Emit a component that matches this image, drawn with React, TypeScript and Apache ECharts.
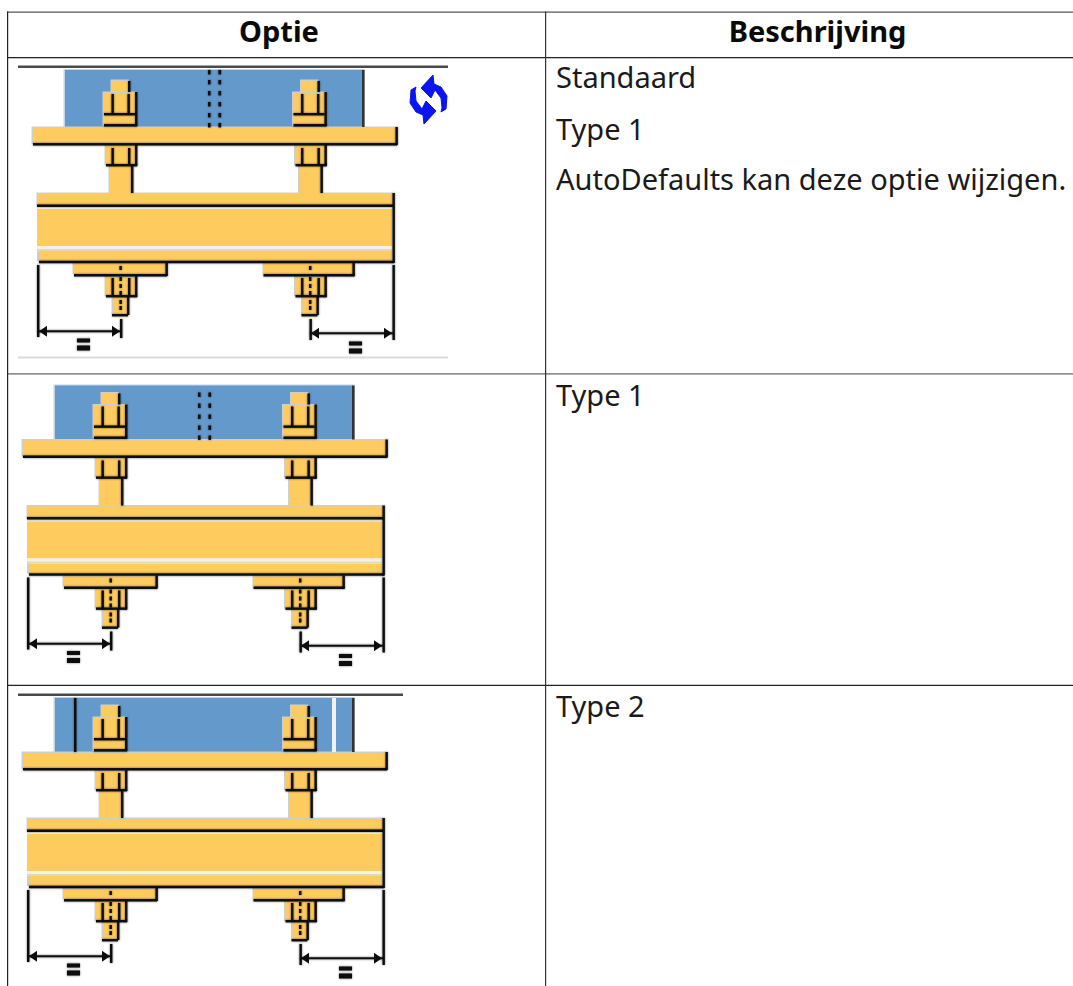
import React, { useEffect, useRef } from "react";
import * as echarts from "echarts";

const WIDTH = 1073;
const HEIGHT = 986;
const FONT = '"Noto Sans", sans-serif';

const headers = ["Optie", "Beschrijving"];
const rowOneTexts = ["Standaard", "Type 1", "AutoDefaults kan deze optie wijzigen."];
const rowTwoTexts = ["Type 1"];
const rowThreeTexts = ["Type 2"];

const YELLOW = "#FECB5F";
const BLUE = "#6499CC";
const BLACK = "#0c0c0c";
const EDGE = "#cfcfca";
const T = 2.4;

const rect = (x: number, y: number, w: number, h: number, fill: string, z = 1) => ({
  type: "rect", z, silent: true, shape: { x, y, width: w, height: h },
  style: fill === BLACK ? { fill, shadowColor: "rgba(0,0,0,0.55)", shadowBlur: 1.6 } : { fill },
});

const part = (x: number, y: number, w: number, h: number) => [
  rect(x - 1.5, y - 1.5, w + 1.5, h + 1.5, EDGE),
  rect(x, y, w, h, YELLOW),
];

const arrowHead = (tipX: number, y: number, dir: number) => ({
  type: "polygon", z: 3, silent: true,
  shape: { points: [[tipX, y], [tipX + dir * 8, y - 5.5], [tipX + dir * 8, y + 5.5]] },
  style: { fill: BLACK },
});

function bolt(dx: number) {
  const x = (v: number) => v + dx;
  const out: any[] = [];
  out.push(...part(x(112), 81, 17, 11));
  out.push(rect(x(128), 81, T, 11, BLACK, 3));
  out.push(...part(x(104), 93, 33, 33));
  out.push(rect(x(111.5), 94, T, 20, BLACK, 3));
  out.push(rect(x(127.5), 94, T, 20, BLACK, 3));
  out.push(rect(x(135), 92, T, 34, BLACK, 3));
  out.push(rect(x(104), 113, 31, T, BLACK, 3));
  out.push(rect(x(104), 124, 33, T, BLACK, 3));
  out.push(...part(x(106), 146, 31, 19));
  out.push(rect(x(111.5), 148, T, 17, BLACK, 3));
  out.push(rect(x(128), 148, T, 17, BLACK, 3));
  out.push(rect(x(135), 145, T, 21, BLACK, 3));
  out.push(rect(x(106), 164, 31, T, BLACK, 3));
  out.push(...part(x(110), 166, 21, 27));
  out.push(rect(x(131), 166, T, 27, BLACK, 3));
  out.push(...part(x(106), 277, 31, 19));
  out.push(rect(x(111.5), 278, T, 18, BLACK, 3));
  out.push(rect(x(128), 278, T, 18, BLACK, 3));
  out.push(rect(x(135), 276, T, 21, BLACK, 3));
  out.push(rect(x(106), 295, 31, T, BLACK, 3));
  out.push(...part(x(113), 297, 15, 17));
  out.push(rect(x(127), 297, T, 18, BLACK, 3));
  out.push(rect(x(112), 314, 16, T, BLACK, 3));
  for (const y of [266, 277, 284, 291, 300, 306]) {
    out.push(rect(x(119.5), y, 2.4, 4, BLACK, 4));
  }
  return out;
}

function diagram(ox: number, oy: number, variant: 1 | 2 | 3) {
  const c: any[] = [];
  const blueTop = variant === 1 ? 70 : 73;
  c.push(rect(63.5, blueTop - 1, 301, 128 - blueTop + 1, "#c4d4e4"));
  c.push(rect(65, blueTop, 298, 127 - blueTop, BLUE));
  c.push(rect(362, blueTop, 2.6, 127 - blueTop, "#333333", 2));
  if (variant === 3) {
    c.push(rect(84, blueTop, T, 54, BLACK, 2));
    c.push(rect(342, blueTop, 4, 54, "#f1f1f1", 2));
  } else {
    for (const px of [208, 218.5]) {
      for (const y of [70, 80, 91, 102, 113, 123]) {
        if (y >= blueTop) c.push(rect(px, y, 2.6, 4.4, BLACK, 2));
      }
    }
  }
  c.push(...part(33, 128, 363, 16));
  c.push(rect(33, 143, 364, T, BLACK, 3));
  c.push(rect(395.5, 127, T, 18, BLACK, 3));
  c.push(...part(38, 194, 355, 11));
  c.push(rect(37, 204.5, 356, T, BLACK, 3));
  c.push(rect(37, 207, 355, 2, "#f6f3e8", 2));
  c.push(rect(37, 209, 355, 37, YELLOW, 2));
  c.push(rect(37, 246, 355, 3, "#f3f1e8", 2));
  c.push(rect(37, 249, 2, 12, EDGE, 2));
  c.push(rect(39, 251, 353, 10, YELLOW, 2));
  c.push(rect(37, 249, 355, 2, "#e2d9bd", 2));
  c.push(rect(39, 260.8, 355, T, BLACK, 3));
  c.push(rect(392.5, 193, T, 70, BLACK, 3));
  c.push(...part(74, 264, 92, 10));
  c.push(rect(74, 274, 93, T, BLACK, 3));
  c.push(rect(165.5, 263, T, 13, BLACK, 3));
  c.push(...part(264, 264, 89, 10));
  c.push(rect(263.5, 274, 91, T, BLACK, 3));
  c.push(rect(352.5, 263, T, 13, BLACK, 3));
  c.push(...bolt(0), ...bolt(189.5));
  c.push(rect(37, 265, T, 72, BLACK, 3));
  c.push(rect(120, 319, T, 19, BLACK, 3));
  c.push(rect(38, 330.3, 82, 2, BLACK, 3));
  c.push(arrowHead(39, 331.3, 1), arrowHead(120, 331.3, -1));
  c.push(rect(77, 338.5, 13, 4, BLACK, 3), rect(77, 345.5, 13, 5, BLACK, 3));
  c.push(rect(309.5, 319, T, 21, BLACK, 3));
  c.push(rect(392.5, 265, T, 75, BLACK, 3));
  c.push(rect(310, 332.3, 83, 2, BLACK, 3));
  c.push(arrowHead(311, 333.3, 1), arrowHead(392, 333.3, -1));
  c.push(rect(349, 341.5, 13, 4, BLACK, 3), rect(349, 348.5, 13, 5, BLACK, 3));
  return { type: "group", x: ox, y: oy, children: c };
}

const upperArrow = [
  [433, 75], [421, 88], [431, 98], [435, 90], [441, 98], [442, 108], [441, 112],
  [446, 109], [447, 96], [441, 87], [434, 84],
];
const lowerArrow = upperArrow.map(([x, y]) => [857 - x, 199 - y]);

const text = (s: string, x: number, y: number, bold: boolean, align: string) => ({
  type: "text", z: 5, silent: true, x, y,
  style: {
    text: s, fill: bold ? "#0a0a0a" : "#1a1a1a", align, verticalAlign: "middle",
    font: `${bold ? "700 " : ""}29px ${FONT}`,
  },
});

function buildGraphic() {
  const els: any[] = [];
  els.push(rect(0, 0, WIDTH, HEIGHT, "#ffffff", 0));
  els.push(diagram(0, 0, 1), diagram(-10, 312.5, 2), diagram(-10, 625, 3));
  els.push(rect(18, 65.5, 430, 2.5, "#4a4a4a", 2), rect(18, 356.5, 430, 2, "#dcdcd2", 2));
  els.push(rect(18, 693.5, 385, 2.5, "#4a4a4a", 2));
  els.push(
    { type: "polygon", z: 2, silent: true, shape: { points: upperArrow }, style: { fill: "#0a14f0", lineJoin: "round", stroke: "#0a14f0", lineWidth: 1 } },
    { type: "polygon", z: 2, silent: true, shape: { points: lowerArrow }, style: { fill: "#0a14f0", lineJoin: "round", stroke: "#0a14f0", lineWidth: 1 } },
  );
  els.push(rect(7, 11.5, WIDTH - 7, 1.3, "#555555", 6));
  els.push(rect(7, 57, WIDTH - 7, 1.2, "#222222", 6));
  els.push(rect(7, 373.3, WIDTH - 7, 1.3, "#666666", 6));
  els.push(rect(7, 684.8, WIDTH - 7, 1.2, "#222222", 6));
  els.push(rect(7, 11.5, 1.2, HEIGHT, "#222222", 6));
  els.push(rect(545, 11.5, 1.2, HEIGHT, "#333333", 6));
  els.push(text(headers[0], 279, 30.5, true, "center"), text(headers[1], 817.5, 30.5, true, "center"));
  rowOneTexts.forEach((s, i) => els.push(text(s, 556, [76.5, 128, 178][i], false, "left")));
  rowTwoTexts.forEach((s) => els.push(text(s, 556, 394, false, "left")));
  rowThreeTexts.forEach((s) => els.push(text(s, 556, 705, false, "left")));
  return els;
}

export default function App() {
  const ref = useRef<HTMLDivElement>(null);
  useEffect(() => {
    if (!ref.current) return;
    const chart = echarts.init(ref.current, undefined, { renderer: "svg" });
    chart.setOption({ animation: false, backgroundColor: "#ffffff", graphic: { elements: buildGraphic() } });
    return () => chart.dispose();
  }, []);
  return <div ref={ref} style={{ position: "fixed", left: 0, top: 0, width: WIDTH, height: HEIGHT }} />;
}
